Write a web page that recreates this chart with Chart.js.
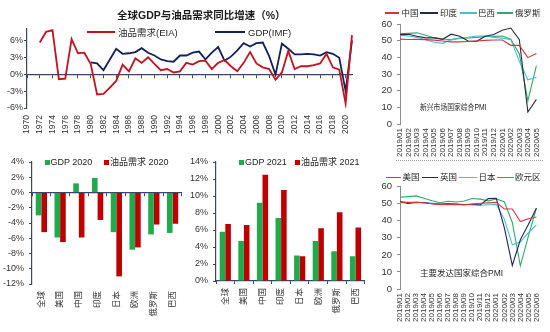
<!DOCTYPE html>
<html>
<head>
<meta charset="utf-8">
<script src="https://cdn.jsdelivr.net/npm/chart.js@4.4.1/dist/chart.umd.min.js"></script>
<style>
  html, body { margin: 0; padding: 0; background: #fff; }
  #page { position: relative; width: 550px; height: 332px; overflow: hidden;
          font-family: "Liberation Sans", "Noto Sans CJK SC", sans-serif; color: #262626; }
  #page canvas { position: absolute; }
  .t { position: absolute; white-space: nowrap; line-height: 1; }
  .sw { position: absolute; }
  .sq { position: absolute; width: 5px; height: 5px; }
</style>
</head>
<body>
<div id="page">
  <canvas id="cTop" width="365" height="150" style="left:0;top:0;width:365px;height:150px"></canvas>
  <canvas id="cBar20" width="190" height="182" style="left:0;top:150px;width:190px;height:182px"></canvas>
  <canvas id="cBar21" width="190" height="182" style="left:180px;top:150px;width:190px;height:182px"></canvas>
  <canvas id="cEm" width="185" height="165" style="left:365px;top:0;width:185px;height:165px"></canvas>
  <canvas id="cDm" width="185" height="167" style="left:365px;top:165px;width:185px;height:167px"></canvas>

  <!-- world GDP vs oil demand: title and legend -->
  <div class="t" style="left:117px;top:10px;font-size:10.5px;font-weight:bold;color:#1a1a1a">全球GDP与油品需求同比增速（%）</div>
  <div class="sw" style="left:87px;top:31px;width:28px;height:2px;background:#c8101e"></div>
  <div class="t" style="left:118px;top:27.5px;font-size:9.5px">油品需求(EIA)</div>
  <div class="sw" style="left:215px;top:31px;width:30px;height:2px;background:#13215a"></div>
  <div class="t" style="left:248px;top:27.5px;font-size:9.5px">GDP(IMF)</div>

  <!-- 2020 bars legend -->
  <div class="sq" style="left:45px;top:160px;background:#1faa4b"></div>
  <div class="t" style="left:50.5px;top:157.8px;font-size:9px">GDP 2020</div>
  <div class="sq" style="left:104px;top:160px;background:#c00000"></div>
  <div class="t" style="left:110px;top:157.8px;font-size:9px">油品需求 2020</div>

  <!-- 2021 bars legend -->
  <div class="sq" style="left:239px;top:160px;background:#1faa4b"></div>
  <div class="t" style="left:245px;top:157.8px;font-size:9px">GDP 2021</div>
  <div class="sq" style="left:295px;top:160px;background:#c00000"></div>
  <div class="t" style="left:301px;top:157.8px;font-size:9px">油品需求 2021</div>

  <!-- emerging markets PMI legend -->
  <div class="sw" style="left:385px;top:12px;width:14px;height:1.5px;background:#d8343c"></div>
  <div class="t" style="left:401.5px;top:8.5px;font-size:8.5px">中国</div>
  <div class="sw" style="left:420px;top:12px;width:18px;height:1.5px;background:#262a3e"></div>
  <div class="t" style="left:440px;top:8.5px;font-size:8.5px">印度</div>
  <div class="sw" style="left:460px;top:12px;width:17px;height:1.5px;background:#43bfdc"></div>
  <div class="t" style="left:478px;top:8.5px;font-size:8.5px">巴西</div>
  <div class="sw" style="left:497px;top:12px;width:16px;height:1.5px;background:#2eab6c"></div>
  <div class="t" style="left:515px;top:8.5px;font-size:8.5px">俄罗斯</div>
  <div class="t" style="left:420px;top:102.5px;font-size:8.5px;transform:scaleX(0.8);transform-origin:0 50%">新兴市场国家综合PMI</div>

  <!-- separator between the two PMI panels -->
  <div class="sw" style="left:396px;top:160px;width:147px;height:0;border-top:1px dotted #9a9a9a"></div>

  <!-- developed markets PMI legend -->
  <div class="sw" style="left:386px;top:176.5px;width:15px;height:1.5px;background:#d8343c"></div>
  <div class="t" style="left:402.5px;top:173px;font-size:8.5px">美国</div>
  <div class="sw" style="left:422px;top:176.5px;width:16px;height:1.5px;background:#1d2a56"></div>
  <div class="t" style="left:440px;top:173px;font-size:8.5px">英国</div>
  <div class="sw" style="left:459px;top:176.5px;width:18px;height:1.5px;background:#43bfdc"></div>
  <div class="t" style="left:478.5px;top:173px;font-size:8.5px">日本</div>
  <div class="sw" style="left:497px;top:176.5px;width:17px;height:1.5px;background:#2eab6c"></div>
  <div class="t" style="left:515px;top:173px;font-size:8.5px">欧元区</div>
  <div class="t" style="left:420px;top:269px;font-size:8.5px">主要发达国家综合PMI</div>
</div>

<script>
// ---- world GDP and oil demand growth, % y/y ----
const years = ['1970','1971','1972','1973','1974','1975','1976','1977','1978','1979',
  '1980','1981','1982','1983','1984','1985','1986','1987','1988','1989',
  '1990','1991','1992','1993','1994','1995','1996','1997','1998','1999',
  '2000','2001','2002','2003','2004','2005','2006','2007','2008','2009',
  '2010','2011','2012','2013','2014','2015','2016','2017','2018','2019',
  '2020','2021'];
const oilDemand = [null, null,
  5.6, 7.5, 7.8, -0.9, -0.8, 6.2, 3.7, 3.8, 1.8, -3.6,
  -3.5, -2.4, -1.2, 1.7, 0.5, 2.8, 2.0, 3.0, 1.8, 0.7,
  0.9, 0.3, 0.5, 2.0, 1.7, 2.3, 2.4, 0.9, 2.0, 2.5,
  1.4, 0.5, 2.0, 3.9, 1.9, 1.2, 0.9, -1.0, 0.3, 4.1,
  0.9, 1.4, 1.4, 1.6, 1.9, 3.6, 1.2, 0.8, -5.2, 6.9];
const worldGdp = [null, null, null, null, null, null, null, null, null, null,
  2.1, 1.9, 0.7, 2.6, 4.5, 3.6, 3.7, 3.9, 4.6, 3.8,
  3.3, 2.6, 2.3, 2.2, 3.3, 3.3, 3.8, 4.0, 2.6, 3.8,
  4.8, 2.4, 3.1, 4.2, 5.5, 4.9, 5.5, 5.6, 3.2, -0.1,
  5.4, 4.5, 3.5, 3.5, 3.6, 3.5, 3.3, 3.9, 3.6, 2.9,
  -3.0, 6.0];
const growthTicks = [-6, -3, 0, 3, 6];

// ---- GDP vs oil demand by economy, % ----
const economies = ['全球', '美国', '中国', '印度', '日本', '欧洲', '俄罗斯', '巴西'];
const gdp2020 = [-3.0, -5.9, 1.2, 1.9, -5.2, -7.5, -5.5, -5.3];
const oil2020 = [-5.2, -6.5, -5.9, -3.6, -11.0, -7.2, -4.2, -4.1];
const gdp2021 = [5.8, 4.7, 9.2, 7.4, 3.0, 4.7, 3.5, 2.9];
const oil2021 = [6.7, 6.6, 12.5, 10.7, 2.9, 6.2, 8.1, 6.3];

// ---- composite PMI ----
const emMonths = ['2019/01','2019/02','2019/03','2019/04','2019/05','2019/06','2019/07','2019/08','2019/09',
  '2019/10','2019/11','2019/12','2020/01','2020/02','2020/03','2020/04','2020/05'];
const pmiChina  = [50.9, 50.7, 50.8, 50.6, 50.3, 49.8, 49.3, 49.3, 49.5, 49.8, 50.2, 50.4, 50.4, 47.2, 47.2, 39.8, 42.3];
const pmiIndia  = [53.6, 53.8, 52.7, 51.7, 51.7, 50.8, 53.9, 52.6, 49.8, 49.6, 52.7, 53.7, 56.3, 57.6, 50.6, 7.2, 14.8];
const pmiBrazil = [53.2, 52.8, 52.0, 50.6, 49.0, 48.4, 50.5, 51.4, 52.0, 52.8, 52.8, 52.0, 51.5, 50.6, 37.6, 26.5, 28.1];
const pmiRussia = [54.2, 54.4, 54.7, 53.2, 51.8, 51.0, 50.6, 51.5, 51.6, 52.0, 52.6, 52.6, 52.8, 50.9, 42.0, 13.9, 35.0];

const dmMonths = ['2019/01','2019/02','2019/03','2019/04','2019/05','2019/06','2019/07','2019/08','2019/09',
  '2019/10','2019/11','2019/12','2020/01','2020/02','2020/03','2020/04','2020/05','2020/06'];
const pmiUS    = [51.0, 50.8, 50.9, 50.6, 50.0, 49.6, 49.5, 49.4, 49.5, 49.8, 50.3, 50.5, 50.8, 46.9, 46.9, 39.6, 41.2, 42.2];
const pmiUK    = [51.5, 50.2, 50.9, 50.6, 50.0, 49.7, 50.0, 49.7, 49.4, 49.7, 49.3, 53.0, 53.2, 36.0, 13.8, 28.9, 37.9, 47.4];
const pmiJapan = [50.6, 50.4, 50.5, 50.7, 50.3, 49.9, 50.0, 49.9, 49.6, 49.3, 49.1, 49.4, 49.5, 41.0, 25.9, 27.5, 33.0, 37.6];
const pmiEuro  = [53.8, 54.2, 54.6, 53.2, 51.8, 50.6, 51.5, 51.0, 51.6, 53.1, 52.7, 51.7, 52.8, 51.2, 39.0, 13.6, 31.0, 47.5];

// ---- shared styling ----
const FONT = '"Liberation Sans", "Noto Sans CJK SC", sans-serif';
Chart.defaults.font.family = FONT;
Chart.defaults.color = '#333';
const RED = '#c8101e', NAVY = '#13215a', AXIS = '#3b4566';
const BAR_GREEN = '#1faa4b', BAR_RED = '#c00000';
const L_RED = '#d8343c', L_DARK = '#262a3e', L_NAVY = '#1d2a56', L_CYAN = '#43bfdc', L_GREEN = '#2eab6c';
const GREY_AX = '#8c8c8c';

const base = {
  responsive: false,
  animation: false,
  devicePixelRatio: 1,
  plugins: { legend: { display: false }, tooltip: { enabled: false }, title: { display: false } },
  elements: { point: { radius: 0 }, line: { tension: 0 } }
};
const fixWidth = w => s => { s.width = w; };
const fixHeight = h => s => { s.height = h; };
const rotated = (size, pad) => ({ autoSkip: false, minRotation: 90, maxRotation: 90, padding: pad, font: { size } });

// world GDP vs oil demand lines
new Chart(document.getElementById('cTop'), {
  type: 'line',
  data: {
    labels: years,
    datasets: [
      { label: '油品需求(EIA)', data: oilDemand, borderColor: RED, borderWidth: 1.8 },
      { label: 'GDP(IMF)', data: worldGdp, borderColor: NAVY, borderWidth: 1.8 }
    ]
  },
  options: Object.assign({}, base, {
    layout: { padding: { top: 29, right: 13, left: 0, bottom: 0 } },
    scales: {
      x: {
        grid: { display: false, drawTicks: false }, border: { display: false },
        ticks: Object.assign(rotated(8.5, 7), { callback: (v, i) => (i % 2 === 0 ? years[i] : null) }),
        afterFit: fixHeight(42)
      },
      xZero: {
        type: 'category', labels: years, position: { y: 0 }, offset: false,
        grid: { drawOnChartArea: false, drawTicks: true, tickLength: 3,
                color: c => (c.index % 2 === 0 ? AXIS : 'rgba(0,0,0,0)') },
        border: { display: true, color: AXIS, width: 1.2 },
        ticks: { display: false }
      },
      y: {
        min: -6, max: 8,
        afterBuildTicks: s => { s.ticks = growthTicks.map(v => ({ value: v })); },
        grid: { drawOnChartArea: false, drawTicks: true, tickLength: 3, color: AXIS },
        border: { color: AXIS, width: 1.2 },
        ticks: { font: { size: 9 }, padding: 1, callback: v => v + '%' },
        afterFit: fixWidth(27)
      }
    }
  })
});

// grouped bars by economy
function barChart(id, labelA, valsA, labelB, valsB, yMin, yMax, zeroInside, sizes) {
  const scales = {
    x: zeroInside
      ? { grid: { display: false, drawTicks: false }, border: { display: false },
          ticks: rotated(8.5, 7), afterFit: fixHeight(sizes.xh) }
      : { grid: { drawOnChartArea: false, offset: true, tickLength: 3, color: AXIS },
          border: { color: AXIS, width: 1.2 }, ticks: rotated(8.5, 4), afterFit: fixHeight(sizes.xh) },
    y: {
      min: yMin, max: yMax,
      grid: { drawOnChartArea: false, drawTicks: true, tickLength: 3, color: AXIS },
      border: { color: AXIS, width: 1.2 },
      ticks: { stepSize: 2, font: { size: 9 }, padding: 5, callback: v => v + '%' },
      afterFit: fixWidth(sizes.yw)
    }
  };
  if (zeroInside) {
    scales.xZero = {
      type: 'category', labels: economies, position: { y: 0 }, offset: true,
      grid: { drawOnChartArea: false, offset: true, drawTicks: true, tickLength: 3, color: AXIS },
      border: { display: true, color: AXIS, width: 1.2 },
      ticks: { display: false }
    };
  }
  new Chart(document.getElementById(id), {
    type: 'bar',
    data: {
      labels: economies,
      datasets: [
        { label: labelA, data: valsA, backgroundColor: BAR_GREEN, categoryPercentage: 0.6, barPercentage: 1 },
        { label: labelB, data: valsB, backgroundColor: BAR_RED, categoryPercentage: 0.6, barPercentage: 1 }
      ]
    },
    options: Object.assign({}, base, {
      layout: { padding: { top: sizes.top, right: sizes.right, left: 0, bottom: 0 } },
      scales
    })
  });
}
barChart('cBar20', 'GDP 2020', gdp2020, '油品需求 2020', oil2020, -12, 4, true,
  { top: 12, right: 3.5, xh: 48, yw: 32 });
barChart('cBar21', 'GDP 2021', gdp2021, '油品需求 2021', oil2021, 0, 14, false,
  { top: 12, right: 5, xh: 51, yw: 36 });

// composite PMI panels
function pmiChart(id, months, series, sizes) {
  new Chart(document.getElementById(id), {
    type: 'line',
    data: {
      labels: months,
      datasets: series.map(s => ({ label: s[0], data: s[1], borderColor: s[2], borderWidth: 1.1 }))
    },
    options: Object.assign({}, base, {
      layout: { padding: { top: sizes.top, right: sizes.right, left: 0, bottom: 0 } },
      scales: {
        x: {
          grid: { display: false, drawTicks: false }, border: { display: false },
          ticks: rotated(8, 4), afterFit: fixHeight(sizes.xh)
        },
        y: {
          min: 0, max: 60,
          grid: { drawOnChartArea: false, drawTicks: true, tickLength: 3, color: GREY_AX },
          border: { color: GREY_AX },
          ticks: { stepSize: 10, font: { size: 9.5 }, padding: 5 },
          afterFit: fixWidth(35)
        }
      }
    })
  });
}
pmiChart('cEm', emMonths, [
  ['中国', pmiChina, L_RED], ['印度', pmiIndia, L_DARK], ['巴西', pmiBrazil, L_CYAN], ['俄罗斯', pmiRussia, L_GREEN]
], { top: 24, right: 13, xh: 41 });
pmiChart('cDm', dmMonths, [
  ['美国', pmiUS, L_RED], ['英国', pmiUK, L_NAVY], ['日本', pmiJapan, L_CYAN], ['欧元区', pmiEuro, L_GREEN]
], { top: 21.7, right: 11.7, xh: 43 });
</script>
</body>
</html>
